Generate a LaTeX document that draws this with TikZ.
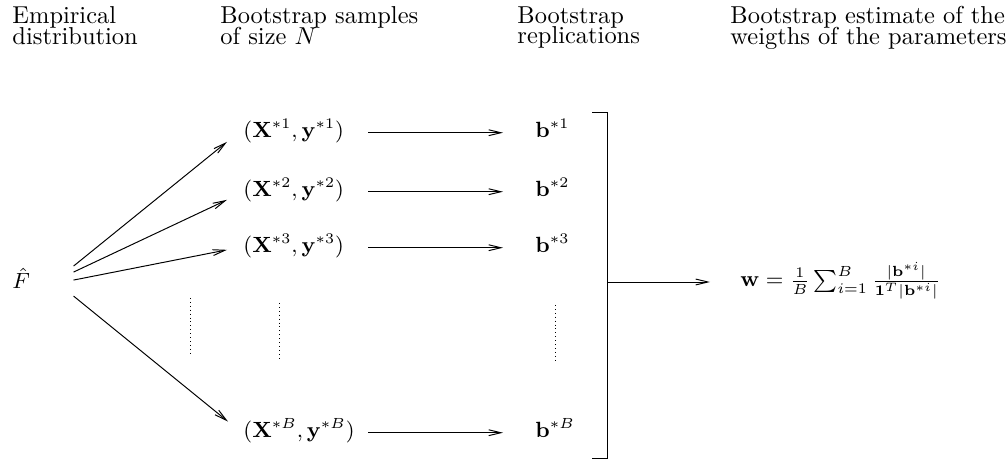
\documentclass[tikz,border=0pt]{standalone}
\usepackage{amsmath}
\usepackage{tikz}
\usetikzlibrary{arrows.meta, positioning}

\begin{document}
\begin{tikzpicture}[
    x=0.01438cm, y=-0.01438cm,
    head/.style={anchor=north west, inner sep=0pt, align=left},
    lbl/.style={anchor=base west, inner sep=0pt, font=\small},
    arr/.style={-{Straight Barb[length=5pt, width=2.4pt]}, thin},
    vdots/.style={dash pattern=on 0.4pt off 1.2pt}
]
    \useasboundingbox (0,0) rectangle (1008,471);

    % column headers
    \node[head] (h1) at (12,6) {Empirical\\[-3.5pt]distribution};
    \node[head] (h2) at (220,6) {Bootstrap samples\\[-3.5pt]of size $N$};
    \node[head] (h3) at (517,6) {Bootstrap\\[-3.5pt]replications};
    \node[head] (h4) at (730,6) {Bootstrap estimate of the\\[-3.5pt]weigths of the parameters};

    \node[lbl] (F) at (12,289) {$\hat{F}$};

    \node[lbl] (s1) at (243,138) {$(\mathbf{X}^{*1},\mathbf{y}^{*1})$};
    \node[lbl] (s2) at (243,197) {$(\mathbf{X}^{*2},\mathbf{y}^{*2})$};
    \node[lbl] (s3) at (243,253) {$(\mathbf{X}^{*3},\mathbf{y}^{*3})$};
    \node[lbl] (sB) at (243,438) {$(\mathbf{X}^{*B},\mathbf{y}^{*B})$};

    \node[lbl] (b1) at (535,138) {$\mathbf{b}^{*1}$};
    \node[lbl] (b2) at (535,197) {$\mathbf{b}^{*2}$};
    \node[lbl] (b3) at (535,253) {$\mathbf{b}^{*3}$};
    \node[lbl] (bB) at (535,438) {$\mathbf{b}^{*B}$};

    \node[lbl] (w) at (740,287) {$\mathbf{w} = \frac{1}{B}\sum_{i=1}^{B}\frac{|\mathbf{b}^{*i}|}{\mathbf{1}^{T}|\mathbf{b}^{*i}|}$};

    \coordinate (ha) at (368,0);
    \coordinate (hb) at (503,0);
    \coordinate (br) at (607,282);

    % resampling
    \draw[arr] ([shift={(43,-12.5)}]F.east) -- ([shift={(-16,10.5)}]s1.west);
    \draw[arr] ([shift={(43,-6.5)}]F.east) -- ([shift={(-16,9.5)}]s2.west);
    \draw[arr] ([shift={(43,1.5)}]F.east) -- ([shift={(-16,3.5)}]s3.west);
    \draw[arr] ([shift={(43,17.5)}]F.east) -- ([shift={(-15,-9.5)}]sB.west);

    % replications
    \draw[arr] (s1.mid -| ha) -- (b1.mid -| hb);
    \draw[arr] (s2.mid -| ha) -- (b2.mid -| hb);
    \draw[arr] (s3.mid -| ha) -- (b3.mid -| hb);
    \draw[arr] (sB.mid -| ha) -- (bB.mid -| hb);

    \draw[vdots] (190,298) -- (190,353);
    \draw[vdots] (279,303) -- (279,361);
    \draw[vdots] (555,305) -- (555,362);

    % bracket
    \draw (592,112) -| (607,458) -- (592,458);
    \draw[arr] (br) -- ([shift={(-30,0)}]br -| w.west);
\end{tikzpicture}
\end{document}
